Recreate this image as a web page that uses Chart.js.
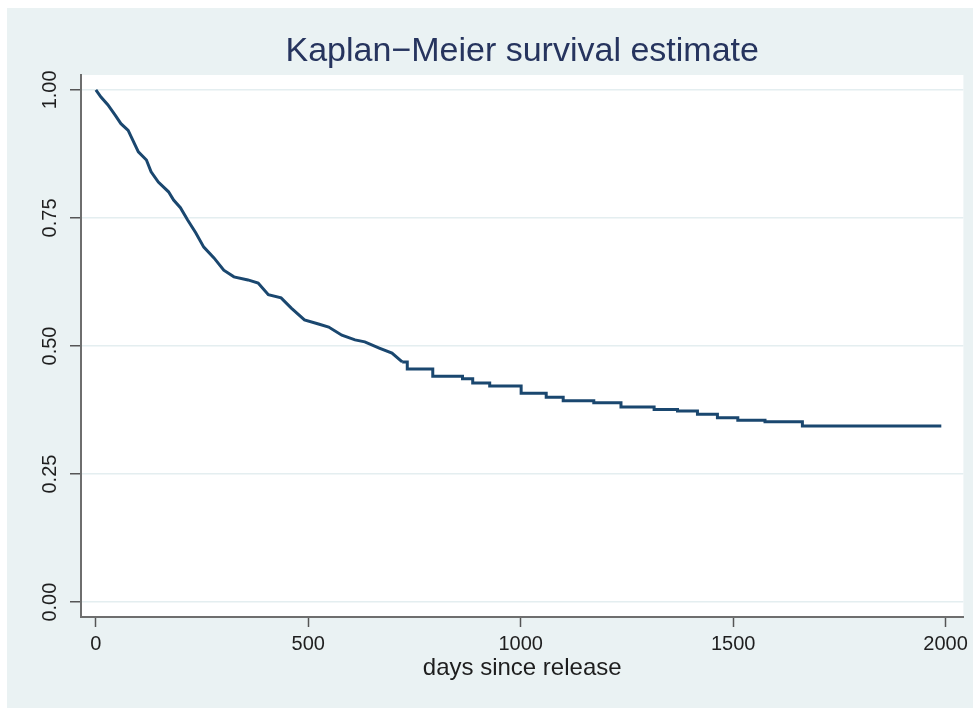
<!DOCTYPE html>
<html>
<head>
<meta charset="utf-8">
<script src="https://cdn.jsdelivr.net/npm/chart.js@4.4.1/dist/chart.umd.min.js"></script>
<style>
  html, body { margin: 0; padding: 0; background: #ffffff; }
  #panel { position: absolute; left: 7px; top: 8px; width: 966px; height: 700px; background: #eaf2f3; }
  canvas { display: block; }
</style>
</head>
<body>
<div id="panel"><canvas id="c" width="966" height="700"></canvas></div>
<script>
// Steep early part of the Kaplan-Meier estimate (days since release, survival)
const earlyDays = [0, 12, 28, 45, 59, 76, 100, 119, 130, 147, 171, 183, 199, 216, 235, 254, 278, 301, 325, 358, 382, 406, 436, 460, 491, 524, 548, 579, 610, 633, 667, 697, 721];
const earlySurv = [1.000, 0.986, 0.971, 0.951, 0.934, 0.921, 0.879, 0.863, 0.840, 0.820, 0.801, 0.785, 0.770, 0.746, 0.721, 0.693, 0.672, 0.648, 0.635, 0.629, 0.623, 0.600, 0.594, 0.574, 0.551, 0.543, 0.537, 0.521, 0.512, 0.508, 0.496, 0.486, 0.469];
// Flatter stepped tail (day of drop, survival after drop)
const lateDays = [721, 733, 793, 863, 887, 927, 1001, 1060, 1100, 1172, 1236, 1314, 1369, 1416, 1463, 1511, 1575, 1663, 1990];
const lateSurv = [0.469, 0.455, 0.441, 0.436, 0.428, 0.422, 0.408, 0.400, 0.393, 0.389, 0.381, 0.376, 0.373, 0.367, 0.360, 0.355, 0.352, 0.344, 0.344];

const xTicks = [0, 500, 1000, 1500, 2000];
const yTicks = [0, 0.25, 0.5, 0.75, 1];
const yTickLabels = ['0.00', '0.25', '0.50', '0.75', '1.00'];

const titleText = 'Kaplan\u2212Meier survival estimate';
const xTitle = 'days since release';

const lineColor = '#1a476f';
const fam = "'Liberation Sans', Arial, Helvetica, sans-serif";
const tickFont = { family: fam, size: 20 };

const plotBg = {
  id: 'plotBg',
  beforeDraw(chart) {
    const a = chart.chartArea, ctx = chart.ctx;
    ctx.save();
    ctx.fillStyle = '#ffffff';
    ctx.fillRect(a.left, a.top, a.right - a.left, a.bottom - a.top);
    ctx.restore();
  }
};

new Chart(document.getElementById('c'), {
  type: 'line',
  data: {
    datasets: [
      {
        data: earlyDays.map((d, i) => ({ x: d, y: earlySurv[i] })),
        borderColor: lineColor, borderWidth: 3, pointRadius: 0, tension: 0, fill: false
      },
      {
        data: lateDays.map((d, i) => ({ x: d, y: lateSurv[i] })),
        borderColor: lineColor, borderWidth: 3, pointRadius: 0, stepped: true, fill: false
      }
    ]
  },
  options: {
    responsive: false,
    animation: false,
    layout: { padding: 0 },
    plugins: {
      legend: { display: false },
      tooltip: { enabled: false },
      title: {
        display: true,
        text: titleText,
        fullSize: false,
        color: '#26345e',
        font: { family: fam, size: 34, weight: 'normal', lineHeight: 1.2 },
        padding: { top: 23, bottom: 3.2 }
      }
    },
    scales: {
      x: {
        type: 'linear',
        min: -35, max: 2042,
        afterBuildTicks: s => { s.ticks = xTicks.map(v => ({ value: v })); },
        afterFit: s => { s.height = 91; },
        grid: { drawOnChartArea: false, drawTicks: true, tickLength: 10, tickColor: '#555555', tickWidth: 1.5 },
        border: { display: true, color: '#6e6e6e', width: 2 },
        ticks: { font: tickFont, color: '#1e1e1e', padding: 5, maxRotation: 0, callback: v => String(v) },
        title: { display: true, text: xTitle, color: '#1e1e1e',
                 font: { family: fam, size: 24, lineHeight: 1.2 },
                 padding: { top: 0, bottom: 25 } }
      },
      y: {
        type: 'linear',
        min: -0.029, max: 1.029,
        afterBuildTicks: s => { s.ticks = yTicks.map(v => ({ value: v })); },
        afterFit: s => { s.width = 74; },
        grid: { drawOnChartArea: true, color: '#e4eef0', lineWidth: 1.5, drawTicks: true, tickLength: 11, tickColor: '#555555', tickWidth: 1.5 },
        border: { display: true, color: '#6e6e6e', width: 2 },
        ticks: { font: tickFont, color: '#1e1e1e', padding: 0.5, minRotation: 90, maxRotation: 90, crossAlign: 'center',
                 callback: (v) => { const i = yTicks.indexOf(v); return i >= 0 ? yTickLabels[i] : ''; } }
      }
    }
  },
  plugins: [plotBg]
});
</script>
</body>
</html>
